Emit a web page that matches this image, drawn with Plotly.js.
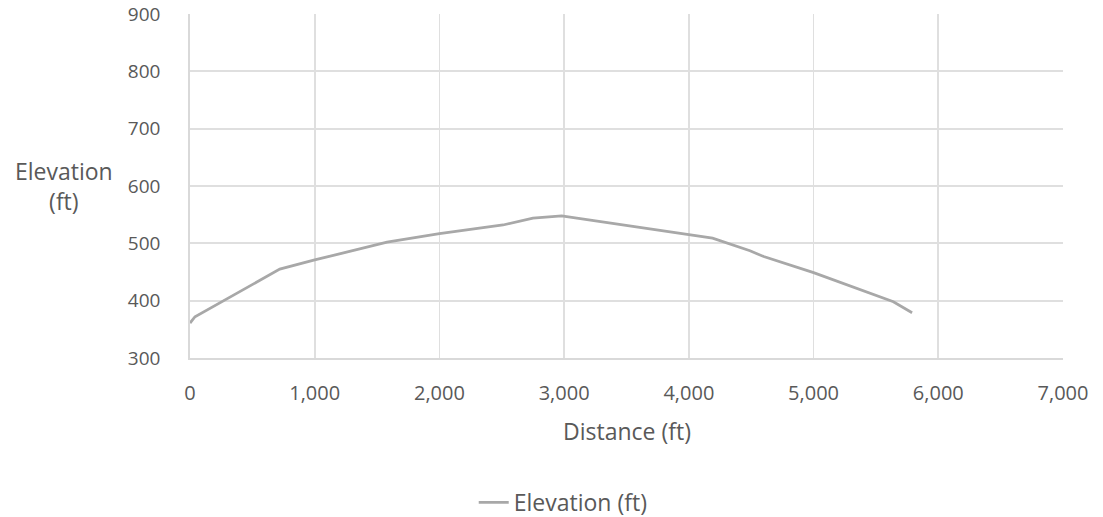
<!DOCTYPE html>
<html>
<head>
<meta charset="utf-8">
<script src="https://cdn.plot.ly/plotly-3.0.1.min.js"></script>
<style>html,body{margin:0;padding:0;background:#fff;}#chart{width:1103px;height:517px;}</style>
</head>
<body>
<div id="chart"></div>
<script>
const distance = [0, 40, 720, 1000, 1580, 2000, 2510, 2750, 2980, 3420, 4000, 4190, 4490, 4600, 5000, 5640, 5790];
const elevation = [361, 372, 455, 471, 502, 517, 532, 544, 548, 534, 515, 509, 487, 477, 449, 398, 379];
const seriesName = 'Elevation (ft)';
const xTitle = 'Distance (ft)';
const yTitle = 'Elevation<br>(ft)';
const xTickVals = [0, 1000, 2000, 3000, 4000, 5000, 6000, 7000];
const xTickText = ['0', '1,000', '2,000', '3,000', '4,000', '5,000', '6,000', '7,000'];

const txt = '#595959';
const fam = 'Open Sans, Noto Sans, sans-serif';

Plotly.newPlot('chart', [{
  x: distance, y: elevation, type: 'scatter', mode: 'lines', name: seriesName,
  line: {color: '#a8a8a8', width: 2.8}
}], {
  width: 1103, height: 517,
  margin: {l: 190, r: 40, t: 14, b: 159, autoexpand: false},
  paper_bgcolor: '#fff', plot_bgcolor: '#fff',
  font: {family: fam, color: txt, size: 19},
  showlegend: true,
  legend: {orientation: 'h', x: 0.325, xanchor: 'left', y: -0.42, yanchor: 'middle', font: {size: 23, color: txt}},
  xaxis: {
    range: [0, 7000], tickvals: xTickVals, ticktext: xTickText,
    showgrid: true, gridcolor: '#dfdfdf', gridwidth: 1.8, showline: true, linecolor: '#d9d9d9', linewidth: 1.8,
    zeroline: false, ticks: '', ticklabelstandoff: 16, tickfont: {size: 20, color: txt}
  },
  yaxis: {
    range: [300, 900], dtick: 100, showgrid: true, gridcolor: '#dfdfdf', gridwidth: 1.8,
    showline: true, linecolor: '#d9d9d9', linewidth: 1.8, zeroline: false, ticks: '',
    ticklabelstandoff: 24, tickfont: {size: 19, color: txt}
  },
  annotations: [{
    text: yTitle, xref: 'paper', yref: 'paper', x: -0.1443, y: 0.50, xanchor: 'center', yanchor: 'middle',
    showarrow: false, font: {size: 23, color: txt}, align: 'center'
  }, {
    text: xTitle, xref: 'paper', yref: 'paper', x: 0.501, y: -0.212, xanchor: 'center', yanchor: 'middle',
    showarrow: false, font: {size: 23, color: txt}
  }]
}, {displayModeBar: false, staticPlot: true});
</script>
</body>
</html>
